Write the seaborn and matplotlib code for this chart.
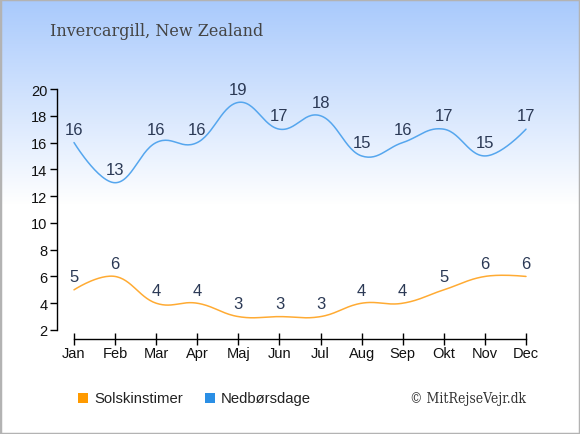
import matplotlib
matplotlib.use("Agg")
import matplotlib.pyplot as plt
import numpy as np
import pandas as pd
import seaborn as sns
from matplotlib.patches import Rectangle

months = ["Jan", "Feb", "Mar", "Apr", "Maj", "Jun", "Jul", "Aug", "Sep", "Okt", "Nov", "Dec"]
sun_hours = [5, 6, 4, 4, 3, 3, 3, 4, 4, 5, 6, 6]
rain_days = [16, 13, 16, 16, 19, 17, 18, 15, 16, 17, 15, 17]
series_names = ["Solskinstimer", "Nedbørsdage"]
title = "Invercargill, New Zealand"
credit = "© MitRejseVejr.dk"

SUN_LINE = "#ffab33"
RAIN_LINE = "#55a6ee"
SUN_BOX = "#ff9a00"
RAIN_BOX = "#2b8fe5"
LABEL_COLOR = "#2b3955"


def spline(values, steps=30):
    # smooth curve through the points (bezier, 1.5 smoothing)
    xs = np.arange(len(values), dtype=float)
    ys = np.asarray(values, dtype=float)
    n = len(xs)
    left = [None] * n
    right = [None] * n
    sm, den = 1.5, 2.5
    for i in range(1, n - 1):
        x, y = xs[i], ys[i]
        lx, ly = xs[i - 1], ys[i - 1]
        nx, ny = xs[i + 1], ys[i + 1]
        lcx, lcy = (sm * x + lx) / den, (sm * y + ly) / den
        rcx, rcy = (sm * x + nx) / den, (sm * y + ny) / den
        corr = ((rcy - lcy) * (rcx - x)) / (rcx - lcx) + y - rcy
        left[i] = (lcx, lcy + corr)
        right[i] = (rcx, rcy + corr)
    out_x, out_y = [xs[0]], [ys[0]]
    t = np.linspace(0, 1, steps)[1:]
    for i in range(1, n):
        p0 = (xs[i - 1], ys[i - 1])
        c1 = right[i - 1] if right[i - 1] is not None else p0
        p3 = (xs[i], ys[i])
        c2 = left[i] if left[i] is not None else p3
        bx = (1 - t) ** 3 * p0[0] + 3 * (1 - t) ** 2 * t * c1[0] + 3 * (1 - t) * t ** 2 * c2[0] + t ** 3 * p3[0]
        by = (1 - t) ** 3 * p0[1] + 3 * (1 - t) ** 2 * t * c1[1] + 3 * (1 - t) * t ** 2 * c2[1] + t ** 3 * p3[1]
        out_x.extend(bx)
        out_y.extend(by)
    return np.array(out_x), np.array(out_y)


sns.set_theme(style="white")
plt.rcParams["font.family"] = ["Liberation Sans", "DejaVu Sans"]

fig = plt.figure(figsize=(5.8, 4.35), dpi=100)

# background gradient
bg = fig.add_axes([0, 0, 1, 1], zorder=0)
grad_rows = 435
frac = np.clip(np.arange(grad_rows) / 205.0, 0, 1)
top = np.array([0.66, 0.79, 0.99])
white = np.array([1.0, 1.0, 1.0])
img = top[None, :] * (1 - frac[:, None]) + white[None, :] * frac[:, None]
img = np.repeat(img[:, None, :], 4, axis=1)
bg.imshow(img, aspect="auto", extent=[0, 1, 0, 1], origin="upper")
bg.set_axis_off()
fig.patches.append(Rectangle((0, 0), 1, 1, transform=fig.transFigure, fill=False,
                             edgecolor="#b3b3b3", linewidth=2.5, zorder=10))

ax = fig.add_axes([57 / 580, 1 - 340 / 435, (526 - 57) / 580, (340 - 90) / 435], zorder=1)
ax.patch.set_alpha(0)

for vals, name, color in [(sun_hours, series_names[0], SUN_LINE), (rain_days, series_names[1], RAIN_LINE)]:
    sx, sy = spline(vals)
    df = pd.DataFrame({"x": sx, "y": sy})
    sns.lineplot(data=df, x="x", y="y", sort=False, color=color, linewidth=1.1, ax=ax, clip_on=False)
    for i, v in enumerate(vals):
        ax.annotate(str(v), (i, v), xytext=(0, 9.5), textcoords="offset points", ha="center", va="center",
                    fontsize=12, color=LABEL_COLOR, annotation_clip=False)

px_per_month = (526 - 74) / 11
ax.set_xlim(-(74 - 57) / px_per_month, 11)
px_per_unit = (331 - 90) / 18
ax.set_ylim(2 - 9 / px_per_unit, 20)
ax.set_xticks(range(len(months)))
ax.set_xticklabels(months)
ax.set_yticks(range(2, 21, 2))
ax.set_xlabel("")
ax.set_ylabel("")
for side in ["top", "right"]:
    ax.spines[side].set_visible(False)
ax.spines["left"].set_bounds(2, 20)
ax.spines["bottom"].set_bounds(0, 11)
for side in ["left", "bottom"]:
    ax.spines[side].set_color("black")
    ax.spines[side].set_linewidth(1.0)
ax.tick_params(axis="y", direction="out", length=5, width=1, color="black", labelsize=10.5, pad=2, left=True)
ax.tick_params(axis="x", direction="inout", length=8, width=1, color="black", labelsize=10.5, pad=1, bottom=True)
for lab in ax.get_xticklabels() + ax.get_yticklabels():
    lab.set_color("#111111")

fig.text(50 / 580, 1 - 32 / 435, title, fontsize=11.5, family="DejaVu Serif", color="#444444",
         ha="left", va="center")

# legend
ly = 1 - 399 / 435
for x0, name, color in [(78, series_names[0], SUN_BOX), (205, series_names[1], RAIN_BOX)]:
    fig.patches.append(Rectangle((x0 / 580, ly - 5 / 435), 10 / 580, 10 / 435, transform=fig.transFigure,
                                 facecolor=color, edgecolor="none", zorder=5))
    fig.text((x0 + 16) / 580, ly, name, fontsize=10.7, color="#222222", ha="left", va="center")
fig.text(526 / 580, ly, credit, fontsize=10, family="DejaVu Serif", stretch="condensed", color="#333333",
         ha="right", va="center")

fig.savefig("out.png", dpi=100)
plt.close(fig)
